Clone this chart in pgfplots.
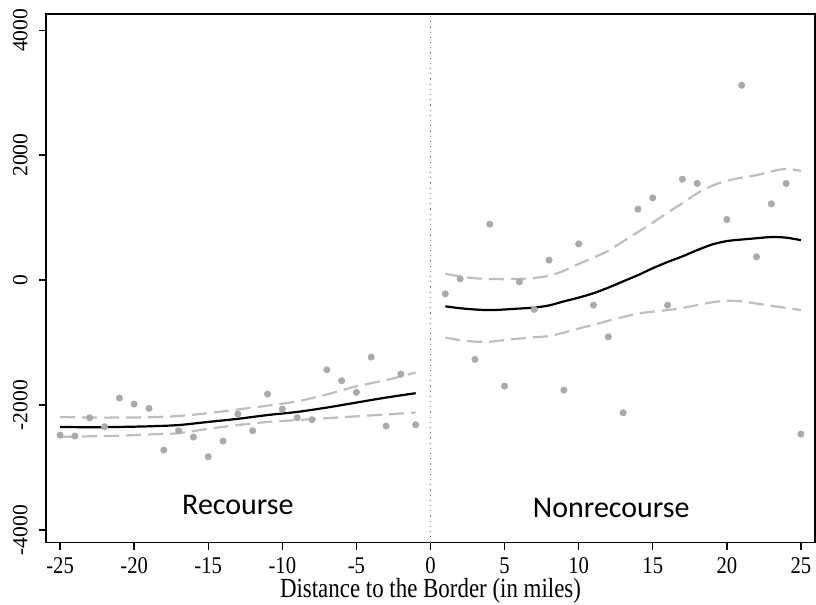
\documentclass[border=0pt]{standalone}
\usepackage{fontspec}
\setmainfont{Liberation Serif}
\newfontfamily\cali{Carlito}
\usepackage{pgfplots}
\pgfplotsset{compat=1.18}
\definecolor{dotgray}{RGB}{170,170,170}
\definecolor{cigray}{RGB}{190,190,190}

\begin{document}
\begin{tikzpicture}
\begin{axis}[
  scale only axis,
  width=384.5pt, height=264.25pt,
  xmin=-25.95, xmax=25.95,
  ymin=-4200, ymax=4260,
  xtick={-25,-20,...,25},
  ytick={-4000,-2000,0,2000,4000},
  axis line style={line width=0.7pt},
  tick style={black, line width=0.7pt},
  tick align=outside,
  major tick length=3.5pt,
  xtick pos=bottom, ytick pos=left,
  /pgf/number format/assume math mode=true,
  /pgf/number format/1000 sep={},
  xticklabel style={font=\fontsize{12}{14}\selectfont, xscale=0.86, inner sep=4pt},
  yticklabel style={font=\fontsize{10.8}{12}\selectfont, rotate=90, anchor=south, inner sep=0pt},
  yticklabel shift=5.5pt,
  xlabel={Distance to the Border (in miles)},
  xlabel style={font=\fontsize{13.8}{15}\selectfont, xscale=0.83,
    at={(axis description cs:0.5,0)}, anchor=base, yshift=-27.5pt},
  clip=false,
]
\coordinate (sw) at (rel axis cs:0,0);
\coordinate (ne) at (rel axis cs:1,1);
% border line
\addplot[gray, dotted, line width=0.6pt] coordinates {(0,-4200) (0,4260)};

% binned means, recourse side
\addplot[only marks, mark=*, mark size=1.55pt, color=dotgray] coordinates {
(-25,-2480) (-24,-2496) (-23,-2203) (-22,-2347) (-21,-1888) (-20,-1984)
(-19,-2053) (-18,-2720) (-17,-2411) (-16,-2512) (-15,-2827) (-14,-2576)
(-13,-2144) (-12,-2411) (-11,-1824) (-10,-2064) (-9,-2203) (-8,-2235)
(-7,-1435) (-6,-1611) (-5,-1797) (-4,-1232) (-3,-2336) (-2,-1504) (-1,-2315)
};
% binned means, nonrecourse side
\addplot[only marks, mark=*, mark size=1.55pt, color=dotgray] coordinates {
(1,-219) (2,21) (3,-1269) (4,896) (5,-1696) (6,-27) (7,-469) (8,320)
(9,-1760) (10,581) (11,-400) (12,-907) (13,-2123) (14,1136) (15,1317)
(16,-400) (17,1616) (18,1547) (20,971) (21,3120) (22,373) (23,1221)
(24,1547) (25,-2464)
};

% confidence bands
\addplot[cigray, line width=1.1pt, dash pattern=on 7.5pt off 3.5pt, smooth] coordinates {
(-25,-2190) (-23,-2200) (-21,-2200) (-19,-2195) (-17,-2175) (-15,-2130)
(-13,-2070) (-11,-2010) (-9,-1940) (-7,-1830) (-5,-1700) (-3,-1600) (-1,-1480)
};
\addplot[cigray, line width=1.1pt, dash pattern=on 7.5pt off 3.5pt, smooth] coordinates {
(-25,-2510) (-23,-2500) (-21,-2490) (-19,-2470) (-17,-2450) (-15,-2380)
(-13,-2320) (-11,-2270) (-9,-2240) (-7,-2210) (-5,-2180) (-3,-2150) (-1,-2120)
};
\addplot[cigray, line width=1.1pt, dash pattern=on 7.5pt off 3.5pt, smooth] coordinates {
(1,100) (2,60) (3,30) (4,20) (5,15) (6,20) (7,35) (8,70) (9,150) (10,260)
(11,360) (12,470) (13,620) (14,770) (15,920) (16,1080) (17,1230) (18,1390)
(19,1510) (20,1590) (21,1640) (22,1680) (23,1740) (24,1780) (25,1750)
};
\addplot[cigray, line width=1.1pt, dash pattern=on 7.5pt off 3.5pt, smooth] coordinates {
(1,-920) (2,-960) (3,-985) (4,-985) (5,-960) (6,-935) (7,-915) (8,-895)
(9,-840) (10,-775) (11,-715) (12,-650) (13,-590) (14,-535) (15,-505)
(16,-480) (17,-445) (18,-400) (19,-355) (20,-330) (21,-340) (22,-375)
(23,-410) (24,-445) (25,-480)
};

% fitted lines
\addplot[black, line width=1.1pt, smooth] coordinates {
(-25,-2350) (-23,-2355) (-21,-2350) (-19,-2340) (-17,-2320) (-15,-2270)
(-13,-2220) (-11,-2160) (-9,-2110) (-7,-2040) (-5,-1960) (-3,-1880) (-1,-1810)
};
\addplot[black, line width=1.1pt, smooth] coordinates {
(1,-420) (2,-450) (3,-470) (4,-480) (5,-470) (6,-455) (7,-440) (8,-405)
(9,-340) (10,-280) (11,-210) (12,-120) (13,-20) (14,80) (15,190) (16,290)
(17,380) (18,480) (19,570) (20,625) (21,650) (22,670) (23,690) (24,680) (25,640)
};

\node[font=\cali\fontsize{15}{17}\selectfont] at (axis cs:-13.0,-3600) {Recourse};
\node[font=\cali\fontsize{15}{17}\selectfont] at (axis cs:12.2,-3640) {Nonrecourse};
\end{axis}
\pgfresetboundingbox
\useasboundingbox ([xshift=-23pt,yshift=-30.75pt]sw) rectangle ([xshift=0.5pt,yshift=7pt]ne);
\end{tikzpicture}
\end{document}
